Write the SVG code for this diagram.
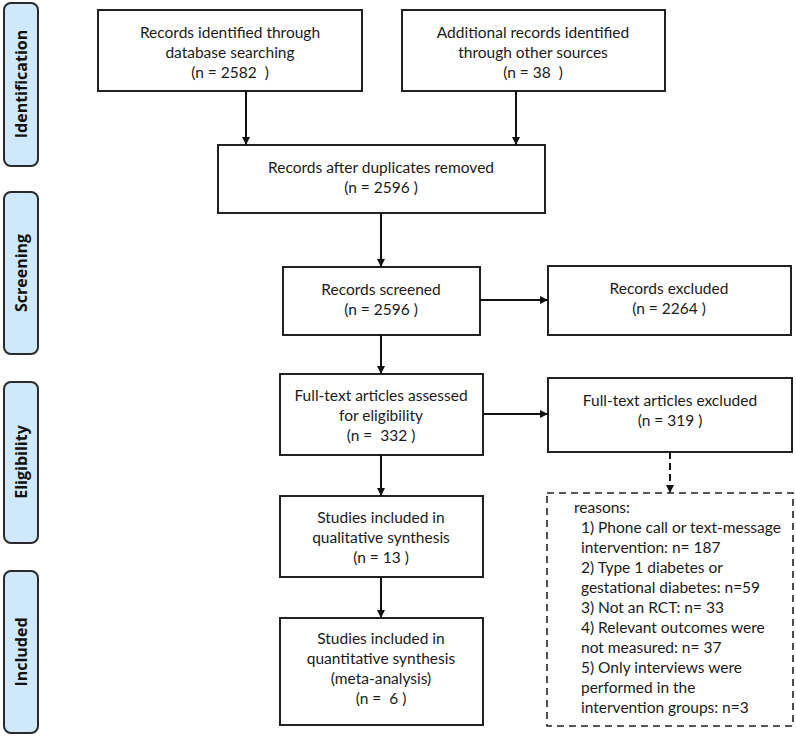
<svg xmlns="http://www.w3.org/2000/svg" width="796" height="736" viewBox="0 0 796 736">
<style>
.box{fill:#fff;stroke:#222;stroke-width:2}
.dbox{fill:#fff;stroke:#222;stroke-width:1.6;stroke-dasharray:7,5}
.side{fill:#cfe8fa;stroke:#2a2a2a;stroke-width:2}
.t{font-family:Lato,"Liberation Sans",sans-serif;font-size:15.5px;fill:#1a1a1a;text-anchor:middle}
.tl{font-family:Lato,"Liberation Sans",sans-serif;font-size:15.5px;fill:#1a1a1a}
.s{font-family:"Open Sans","Liberation Sans",sans-serif;font-size:16px;font-weight:bold;fill:#111;text-anchor:middle}
.c{stroke:#111;stroke-width:2;fill:none}
.cd{stroke:#111;stroke-width:2;fill:none;stroke-dasharray:7,4}
</style>
<defs>
<marker id="ah" markerWidth="8" markerHeight="8" refX="8" refY="4" orient="auto" markerUnits="userSpaceOnUse">
<path d="M0,0 L8,4 L0,8 Z" fill="#111"/>
</marker>
</defs>
<rect width="796" height="736" fill="#fff"/>
<g id="side-identification"><rect class="side" x="4" y="3" width="34" height="163" rx="7"/><text class="s" transform="translate(27,84) rotate(-90)">Identification</text></g>
<g id="side-screening"><rect class="side" x="4" y="192" width="34" height="162" rx="7"/><text class="s" transform="translate(27,273) rotate(-90)">Screening</text></g>
<g id="side-eligibility"><rect class="side" x="4" y="382" width="34" height="161" rx="7"/><text class="s" transform="translate(27,462) rotate(-90)">Eligibility</text></g>
<g id="side-included"><rect class="side" x="4" y="571" width="34" height="162" rx="7"/><text class="s" transform="translate(27,652) rotate(-90)">Included</text></g>

<g id="db"><rect class="box" x="98" y="10" width="264" height="81"/>
<text class="t" x="230" y="38">Records identified through</text><text class="t" x="230" y="58">database searching</text><text class="t" x="230" y="78">(n = 2582&#160; )</text></g>
<g id="other"><rect class="box" x="402" y="10" width="263" height="81"/>
<text class="t" x="533" y="38">Additional records identified</text><text class="t" x="533" y="58">through other sources</text><text class="t" x="533" y="78">(n = 38&#160; )</text></g>
<g id="dup"><rect class="box" x="218" y="145" width="327" height="68"/>
<text class="t" x="381" y="173">Records after duplicates removed</text><text class="t" x="381" y="193">(n = 2596 )</text></g>
<g id="screened"><rect class="box" x="283" y="267" width="197" height="68"/>
<text class="t" x="381" y="295">Records screened</text><text class="t" x="381" y="315">(n = 2596 )</text></g>
<g id="excluded"><rect class="box" x="548" y="266" width="243" height="69"/>
<text class="t" x="669" y="294">Records excluded</text><text class="t" x="669" y="314">(n = 2264 )</text></g>
<g id="fulltext"><rect class="box" x="280" y="374" width="203" height="81"/>
<text class="t" x="381" y="401">Full-text articles assessed</text><text class="t" x="381" y="421">for eligibility</text><text class="t" x="381" y="441">(n =&#160; 332 )</text></g>
<g id="ftexcluded"><rect class="box" x="548" y="378" width="244" height="74"/>
<text class="t" x="670" y="406">Full-text articles excluded</text><text class="t" x="670" y="426">(n = 319 )</text></g>
<g id="qual"><rect class="box" x="280" y="496" width="203" height="81"/>
<text class="t" x="381" y="523">Studies included in</text><text class="t" x="381" y="543">qualitative synthesis</text><text class="t" x="381" y="563">(n = 13 )</text></g>
<g id="quant"><rect class="box" x="280" y="618" width="203" height="107"/>
<text class="t" x="381" y="644">Studies included in</text><text class="t" x="381" y="664">quantitative synthesis</text><text class="t" x="381" y="684">(meta-analysis)</text><text class="t" x="381" y="704">(n =&#160; 6 )</text></g>
<g id="reasons"><rect class="dbox" x="547" y="493" width="246" height="233"/>
<text class="tl" x="574" y="513">reasons:</text>
<text class="tl" x="581" y="533">1) Phone call or text-message</text>
<text class="tl" x="581" y="553">intervention: n= 187</text>
<text class="tl" x="581" y="573">2) Type 1 diabetes or</text>
<text class="tl" x="581" y="593">gestational diabetes: n=59</text>
<text class="tl" x="581" y="613">3) Not an RCT: n= 33</text>
<text class="tl" x="581" y="633">4) Relevant outcomes were</text>
<text class="tl" x="581" y="653">not measured: n= 37</text>
<text class="tl" x="581" y="673">5) Only interviews were</text>
<text class="tl" x="581" y="693">performed in the</text>
<text class="tl" x="581" y="713">intervention groups: n=3</text></g>

<g id="connectors">
<line class="c" x1="246" y1="91" x2="246" y2="145" marker-end="url(#ah)"/>
<line class="c" x1="516" y1="91" x2="516" y2="145" marker-end="url(#ah)"/>
<line class="c" x1="381" y1="213" x2="381" y2="267" marker-end="url(#ah)"/>
<line class="c" x1="480" y1="300" x2="548" y2="300" marker-end="url(#ah)"/>
<line class="c" x1="381" y1="335" x2="381" y2="374" marker-end="url(#ah)"/>
<line class="c" x1="483" y1="414" x2="548" y2="414" marker-end="url(#ah)"/>
<line class="c" x1="381" y1="455" x2="381" y2="496" marker-end="url(#ah)"/>
<line class="c" x1="381" y1="577" x2="381" y2="618" marker-end="url(#ah)"/>
<line class="cd" x1="670" y1="452" x2="670" y2="493" marker-end="url(#ah)"/>
</g>
</svg>
